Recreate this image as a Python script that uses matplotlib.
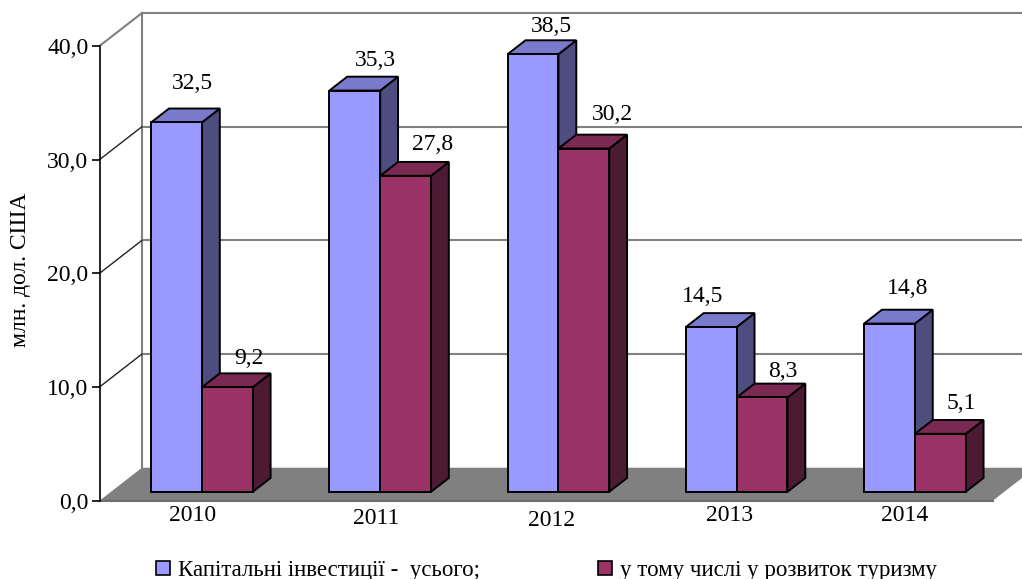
#!/usr/bin/env python3
import matplotlib
matplotlib.use('Agg')
import matplotlib.pyplot as plt
from matplotlib.patches import Patch

plt.rcParams['font.family'] = ['Liberation Serif', 'DejaVu Serif']

# Datos
anios = ['2010', '2011', '2012', '2013', '2014']
capital = [32.5, 35.3, 38.5, 14.5, 14.8]
turizm = [9.2, 27.8, 30.2, 8.3, 5.1]
y_ticks = [0, 10, 20, 30, 40]
nombre_capital = 'Капітальні інвестиції -  усього;'
nombre_turizm = 'у тому числі у розвиток туризму'

# Geometria del pseudo 3D (unidades de los ejes)
PARED_X, PARED_Y = 0.238, 2.9
BASE_T = 0.27
PROF_T = 0.42
HUECO = 0.2257
ANCHO = 0.285
FIN_SUELO = 5.012

# Desplazamientos a mano de las etiquetas, en pixeles
off_capital = [(16, 39), (21, 30), (18, 28), (-9, 30), (18, 35)]
off_turizm = [(22, 29), (27, 31), (29, 34), (21, 26), (21, 30)]
off_anios = [(4, -15), (9, -18), (6, -20), (6, -15), (3, -15)]

FS = 17
GRIS = '#808080'

fig = plt.figure(figsize=(10.22, 5.79), dpi=100)
ax = fig.add_axes([99.5 / 1022, (579 - 500.7) / 579, 891.2 / 1022, 454.7 / 579])
ax.set_xlim(0, 5)
ax.set_ylim(0, 40)
ax.patch.set_visible(False)

# Suelo
ax.fill([0, PARED_X, FIN_SUELO + PARED_X, FIN_SUELO], [0, PARED_Y, PARED_Y, 0], color=GRIS, lw=0,
        clip_on=False, zorder=1)
ax.plot([0, FIN_SUELO], [0, 0], color='#6e6e6e', lw=1.5, clip_on=False, zorder=1)

# Pared del fondo y rejilla
ax.plot([PARED_X, PARED_X], [PARED_Y, 40 + PARED_Y], color=GRIS, lw=1.5, clip_on=False, zorder=1)
for v in y_ticks[1:]:
    ax.plot([PARED_X, FIN_SUELO + PARED_X], [v + PARED_Y, v + PARED_Y], color=GRIS, lw=1.5,
            clip_on=False, zorder=1)
    ax.plot([0, PARED_X], [v, v + PARED_Y], color=GRIS if v == 40 else '#222222',
            lw=1.5 if v == 40 else 1, clip_on=False, zorder=1)


def barra(x0, valor, frente, lado, tapa):
    dx = PARED_X * PROF_T
    dy = PARED_Y * PROF_T
    x = x0 + PARED_X * BASE_T
    y = PARED_Y * BASE_T
    kw = dict(edgecolor='black', linewidth=1.4, joinstyle='miter', clip_on=False, zorder=3)
    ax.fill([x + ANCHO, x + ANCHO + dx, x + ANCHO + dx, x + ANCHO],
            [y, y + dy, y + valor + dy, y + valor], facecolor=lado, **kw)
    ax.fill([x, x + dx, x + ANCHO + dx, x + ANCHO],
            [y + valor, y + valor + dy, y + valor + dy, y + valor], facecolor=tapa, **kw)
    ax.fill([x, x + ANCHO, x + ANCHO, x],
            [y, y, y + valor, y + valor], facecolor=frente, **kw)
    return x + ANCHO / 2, y + valor


def etiqueta(x, y, texto, off):
    ax.annotate(texto, xy=(x, y), xytext=off, textcoords='offset pixels', ha='center',
                va='center', fontsize=FS, annotation_clip=False, zorder=5)


for i in range(len(anios)):
    x0 = i + HUECO
    xc, yc = barra(x0, capital[i], '#9999FF', '#4D4D80', '#7A7ACC')
    etiqueta(xc, yc, f'{capital[i]:.1f}'.replace('.', ','), off_capital[i])
    xc, yc = barra(x0 + ANCHO, turizm[i], '#993366', '#4D1A33', '#7A2952')
    etiqueta(xc, yc, f'{turizm[i]:.1f}'.replace('.', ','), off_turizm[i])
    etiqueta(i + 0.5, 0, anios[i], off_anios[i])

# Ejes
for lado in ['top', 'right', 'bottom']:
    ax.spines[lado].set_visible(False)
ax.spines['left'].set_linewidth(1.2)
ax.spines['left'].set_zorder(4)
ax.set_xticks([])
ax.set_yticks(y_ticks)
ax.set_yticklabels([f'{v:.1f}'.replace('.', ',') for v in y_ticks], fontsize=FS)
ax.tick_params(axis='y', length=6, width=1.2, pad=2)

fig.text(21 / 1022, 1 - 270 / 579, 'млн. дол. США', rotation=90, ha='center', va='center',
         fontsize=17)

# Leyenda
handles = [Patch(facecolor='#9999FF', edgecolor='black', lw=1.2, label=nombre_capital),
           Patch(facecolor='#993366', edgecolor='black', lw=1.2, label=nombre_turizm)]
fig.legend(handles=handles, ncols=2, loc='center left', bbox_to_anchor=(133 / 1022, 1 - 570.5 / 579),
           frameon=False, fontsize=16.5, handlelength=0.62, handleheight=0.62, handletextpad=0.35,
           columnspacing=5.13, borderpad=0.5)

fig.savefig('out.png', dpi=100)
plt.close(fig)
